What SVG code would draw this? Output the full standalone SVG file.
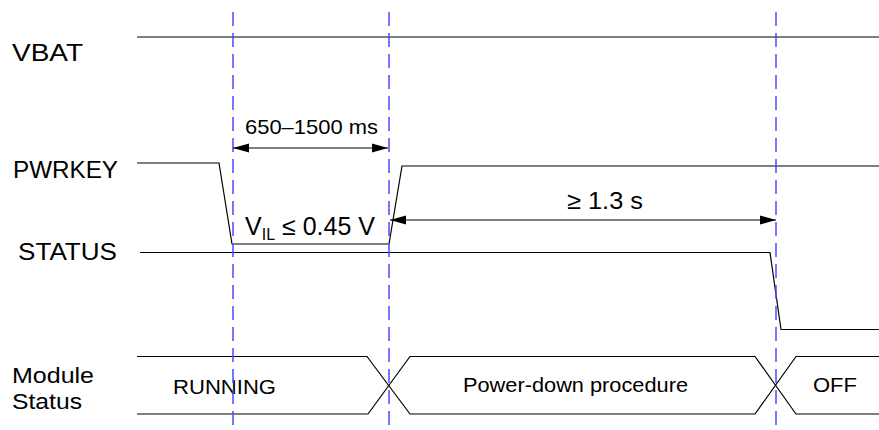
<svg xmlns="http://www.w3.org/2000/svg" width="879" height="430" viewBox="0 0 879 430">
<style>
text{font-family:"Liberation Sans",Arial,sans-serif;fill:#000}
.lbl{font-size:24px}
.ms{font-size:22px}
.st{font-size:21px}
.sig{fill:none;stroke:#000;stroke-width:1.2}
.dash{stroke:#4a4aff;stroke-width:1.5;stroke-dasharray:14 7;fill:none}
.dim{stroke:#000;stroke-width:1.2;fill:none;marker-start:url(#ah);marker-end:url(#ah)}
</style>
<defs>
<marker id="ah" viewBox="0 0 16 10" refX="16" refY="5" markerWidth="16" markerHeight="10" markerUnits="userSpaceOnUse" orient="auto-start-reverse">
<path d="M0,0.5 L16,5 L0,9.5 Z" fill="#000"/>
</marker>
</defs>
<g id="labels">
<text class="lbl" x="12" y="61" textLength="71" lengthAdjust="spacingAndGlyphs">VBAT</text>
<text class="lbl" x="13" y="178" textLength="105" lengthAdjust="spacingAndGlyphs">PWRKEY</text>
<text class="lbl" x="18" y="260" textLength="99" lengthAdjust="spacingAndGlyphs">STATUS</text>
<text class="ms" x="12" y="383" textLength="82" lengthAdjust="spacingAndGlyphs">Module</text>
<text class="ms" x="12" y="409" textLength="70" lengthAdjust="spacingAndGlyphs">Status</text>
</g>
<g id="signals">
<path id="vbat" d="M137,37 H879" stroke="#555" stroke-width="1.6" fill="none"/>
<path id="pwrkey" class="sig" d="M137,163 H219 L232,244 H389 L402,166 H879"/>
<path id="status" class="sig" d="M140,252.5 H770 L781,329.5 H879"/>
<g id="module-status">
<path class="sig" d="M137,356.5 H367 L410,414 H755 L796,356.5 H879"/>
<path class="sig" d="M137,414 H368 L410,356.5 H755 L796,414 H879"/>
<text class="st" x="173" y="394" textLength="103" lengthAdjust="spacingAndGlyphs">RUNNING</text>
<text class="st" x="463" y="392" textLength="225" lengthAdjust="spacingAndGlyphs">Power-down procedure</text>
<text class="st" x="813" y="392" textLength="44" lengthAdjust="spacingAndGlyphs">OFF</text>
</g>
</g>
<g id="connectors">
<path class="dash" d="M233,12 V425"/>
<path class="dash" d="M389,12 V425"/>
<path class="dash" d="M776,12 V425"/>
<path class="dim" d="M233,148 H388"/>
<path class="dim" d="M390,220 H776"/>
</g>
<g id="annotations">
<text style="font-size:21px" x="245" y="134" textLength="133" lengthAdjust="spacingAndGlyphs">650–1500 ms</text>
<text style="font-size:24px" x="567" y="209" textLength="76" lengthAdjust="spacingAndGlyphs">≥ 1.3 s</text>
<text style="font-size:25px" x="245" y="235">V<tspan style="font-size:16px" dy="5">IL</tspan><tspan dy="-5"> ≤ 0.45 V</tspan></text>
</g>
</svg>
